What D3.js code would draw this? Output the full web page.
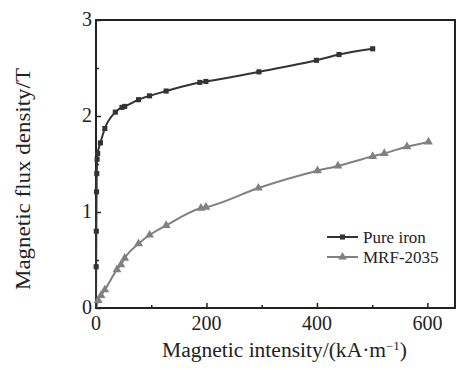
<!DOCTYPE html>
<html>
<head>
<meta charset="utf-8">
<script src="https://cdn.jsdelivr.net/npm/d3@7"></script>
<style>
  body { margin: 0; background: #fff; }
  text { font-family: "Liberation Serif", "Times New Roman", serif; fill: #222; }
</style>
</head>
<body>
<div id="chart-area"></div>
<script>
// data (H in kA/m, B in T)
const ironH = [0, 0.3, 0.6, 1.0, 1.4, 2.0, 3.0, 8, 16, 35, 47, 52, 77, 97, 127, 188, 199, 295, 399, 440, 501];
const ironB = [0, 0.43, 0.80, 1.21, 1.40, 1.55, 1.61, 1.72, 1.87, 2.04, 2.09, 2.10, 2.17, 2.21, 2.26, 2.35, 2.36, 2.46, 2.58, 2.64, 2.70];
const mrfH = [0, 4, 9, 16, 38, 45, 52, 77, 97, 127, 190, 199, 294, 401, 438, 501, 522, 563, 602];
const mrfB = [0, 0.08, 0.13, 0.19, 0.40, 0.45, 0.52, 0.67, 0.76, 0.86, 1.04, 1.05, 1.25, 1.43, 1.48, 1.58, 1.61, 1.68, 1.73];
const xTicks = [0, 200, 400, 600];
const xMinor = [100, 300, 500];
const yTicks = [0, 1, 2, 3];
const yMinor = [0.5, 1.5, 2.5];
const seriesNames = ["Pure iron", "MRF-2035"];

const margin = { left: 96, right: 8, top: 20, bottom: 62 };
const width = 463 - margin.left - margin.right;
const height = 370 - margin.top - margin.bottom;

const svg = d3.select("#chart-area").append("svg")
  .attr("width", 463)
  .attr("height", 370);

const g = svg.append("g")
  .attr("transform", "translate(" + margin.left + "," + margin.top + ")");

const x = d3.scaleLinear().domain([0, 650]).range([0, width]);
const y = d3.scaleLinear().domain([0, 3]).range([height, 0]);

// minor ticks (inward)
g.append("g")
  .attr("transform", "translate(0," + height + ")")
  .call(d3.axisTop(x).tickValues(xMinor).tickSize(3).tickFormat(""))
  .call(s => s.select(".domain").remove());
g.append("g")
  .call(d3.axisRight(y).tickValues(yMinor).tickSize(3).tickFormat(""))
  .call(s => s.select(".domain").remove());

// major ticks (inward) + labels
const xAxis = g.append("g")
  .attr("transform", "translate(0," + height + ")")
  .call(d3.axisTop(x).tickValues(xTicks).tickSize(5).tickFormat(""));
xAxis.select(".domain").remove();
g.append("g").selectAll("text").data(xTicks).enter().append("text")
  .attr("x", d => x(d))
  .attr("y", height + 22)
  .attr("text-anchor", "middle")
  .attr("font-size", "20px")
  .text(d => d);

const yAxis = g.append("g")
  .call(d3.axisRight(y).tickValues(yTicks).tickSize(5).tickFormat(""));
yAxis.select(".domain").remove();
g.append("g").selectAll("text").data(yTicks).enter().append("text")
  .attr("x", -4)
  .attr("y", d => y(d) + 6)
  .attr("text-anchor", "end")
  .attr("font-size", "20px")
  .text(d => d);

g.selectAll(".tick line").attr("stroke", "#222").attr("stroke-width", 1.5);

// frame
g.append("rect")
  .attr("width", width)
  .attr("height", height)
  .attr("fill", "none")
  .attr("stroke", "#222")
  .attr("stroke-width", 2);

const line = d3.line()
  .x(d => x(d[0]))
  .y(d => y(d[1]))
  .curve(d3.curveMonotoneX);

const iron = ironH.map((h, i) => [h, ironB[i]]);
const mrf = mrfH.map((h, i) => [h, mrfB[i]]);

const ironColor = "#333";
const mrfColor = "#808080";

g.append("path").datum(mrf)
  .attr("d", line).attr("fill", "none")
  .attr("stroke", mrfColor).attr("stroke-width", 2);
g.append("path").datum(iron)
  .attr("d", line).attr("fill", "none")
  .attr("stroke", ironColor).attr("stroke-width", 2);

const square = d3.symbol().type(d3.symbolSquare).size(26);
const triangle = d3.symbol().type(d3.symbolTriangle).size(34);

g.selectAll(".sq").data(iron.slice(1)).enter().append("path")
  .attr("class", "sq")
  .attr("d", square)
  .attr("transform", d => "translate(" + x(d[0]) + "," + y(d[1]) + ")")
  .attr("fill", ironColor);

g.selectAll(".tri").data(mrf.slice(1)).enter().append("path")
  .attr("class", "tri")
  .attr("d", triangle)
  .attr("transform", d => "translate(" + x(d[0]) + "," + y(d[1]) + ")")
  .attr("fill", mrfColor);

// legend
const legend = svg.append("g").attr("transform", "translate(327,237)");
[ironColor, mrfColor].forEach((c, i) => {
  const row = legend.append("g").attr("transform", "translate(0," + (i * 20) + ")");
  row.append("line").attr("x1", 0).attr("x2", 31)
    .attr("stroke", c).attr("stroke-width", 2);
  row.append("path")
    .attr("d", i === 0 ? square : triangle)
    .attr("transform", "translate(15.5,0)")
    .attr("fill", c);
  row.append("text")
    .attr("x", 36)
    .attr("y", 5.5)
    .attr("font-size", "17px")
    .text(seriesNames[i]);
});

// axis titles
const xTitle = svg.append("text")
  .attr("x", 162)
  .attr("y", 357)
  .attr("font-size", "20px")
  .attr("textLength", 245)
  .attr("lengthAdjust", "spacingAndGlyphs");
xTitle.append("tspan").text("Magnetic intensity/(kA·m");
xTitle.append("tspan").attr("dy", -7).attr("font-size", "12px").text("−1");
xTitle.append("tspan").attr("dy", 7).text(")");

svg.append("text")
  .attr("transform", "translate(30,179) rotate(-90)")
  .attr("text-anchor", "middle")
  .attr("font-size", "20px")
  .attr("textLength", 222)
  .attr("lengthAdjust", "spacingAndGlyphs")
  .text("Magnetic flux density/T");
</script>
</body>
</html>
